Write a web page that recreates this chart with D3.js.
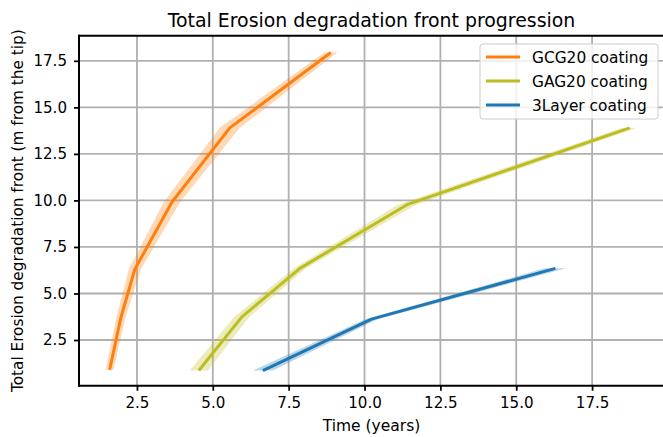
<!DOCTYPE html>
<html>
<head>
<meta charset="utf-8">
<script src="https://cdn.jsdelivr.net/npm/d3@7"></script>
<style>
  body { margin: 0; background: #fff; }
  svg { font-family: "DejaVu Sans", sans-serif; display: block; }
</style>
</head>
<body>
<svg width="663" height="437"></svg>
<script>
// values
var seriesNames = ["GCG20 coating", "GAG20 coating", "3Layer coating"];
var seriesColors = ["#ff7f0e", "#bcbd22", "#1f77b4"];

var gcgTime = [1.6, 1.97, 2.43, 3.65, 5.56, 8.89];
var gcgFront = [0.9, 3.7, 6.3, 9.9, 13.9, 17.95];
var gcgSpread = [0.13, 0.15, 0.2, 0.27, 0.33, 0.22];

var gagTime = [4.54, 5.95, 7.87, 11.4, 18.74];
var gagFront = [0.86, 3.73, 6.35, 9.77, 13.9];
var gagSpread = [0.3, 0.25, 0.2, 0.3, 0.25];

var layerTime = [6.65, 10.23, 16.29];
var layerFront = [0.86, 3.62, 6.35];
var layerSpread = [0.33, 0.2, 0.35];

var xTicks = [2.5, 5.0, 7.5, 10.0, 12.5, 15.0, 17.5];
var yTicks = [2.5, 5.0, 7.5, 10.0, 12.5, 15.0, 17.5];

function zipSeries(t, f, s) {
  var out = [];
  for (var i = 0; i < t.length; ++i) out.push({ x: t[i], y: f[i], lo: t[i] - s[i], hi: t[i] + s[i] });
  return out;
}

var series = [
  zipSeries(gcgTime, gcgFront, gcgSpread),
  zipSeries(gagTime, gagFront, gagSpread),
  zipSeries(layerTime, layerFront, layerSpread)
];

var axLeft = 79, axRight = 664, axTop = 35.7, axBottom = 385.7;

var x = d3.scaleLinear().domain([0.59, 19.87]).range([axLeft, axRight]);
var y = d3.scaleLinear().domain([0.045, 18.85]).range([axBottom, axTop]);

var svg = d3.select("svg");

svg.append("defs").append("clipPath").attr("id", "plotclip")
  .append("rect").attr("x", axLeft).attr("y", axTop)
  .attr("width", axRight - axLeft).attr("height", axBottom - axTop);

// grid
var grid = svg.append("g");
grid.selectAll("line.vx").data(xTicks).enter().append("line")
  .attr("x1", function(d) { return x(d); }).attr("x2", function(d) { return x(d); })
  .attr("y1", axTop).attr("y2", axBottom)
  .attr("stroke", "#b0b0b0").attr("stroke-width", 1.8);
grid.selectAll("line.hy").data(yTicks).enter().append("line")
  .attr("y1", function(d) { return y(d); }).attr("y2", function(d) { return y(d); })
  .attr("x1", axLeft).attr("x2", axRight)
  .attr("stroke", "#b0b0b0").attr("stroke-width", 1.8);

var plot = svg.append("g").attr("clip-path", "url(#plotclip)");

var band = d3.area()
  .y(function(d) { return y(d.y); })
  .x0(function(d) { return x(d.lo); })
  .x1(function(d) { return x(d.hi); });

var line = d3.line()
  .x(function(d) { return x(d.x); })
  .y(function(d) { return y(d.y); });

series.forEach(function(s, i) {
  plot.append("path").attr("d", band(s))
    .attr("fill", seriesColors[i]).attr("fill-opacity", 0.3);
});
series.forEach(function(s, i) {
  plot.append("path").attr("d", line(s))
    .attr("fill", "none").attr("stroke", seriesColors[i])
    .attr("stroke-width", 3).attr("stroke-linejoin", "round");
});

// axes
var xAxis = svg.append("g").attr("transform", "translate(0," + axBottom + ")")
  .call(d3.axisBottom(x).tickValues(xTicks).tickFormat(d3.format(".1f")).tickSize(5).tickPadding(7));
var yAxis = svg.append("g").attr("transform", "translate(" + axLeft + ",0)")
  .call(d3.axisLeft(y).tickValues(yTicks).tickFormat(d3.format(".1f")).tickSize(5).tickPadding(7));

[xAxis, yAxis].forEach(function(a) {
  a.attr("font-size", 15.1).attr("font-family", "DejaVu Sans, sans-serif");
  a.select(".domain").remove();
  a.selectAll(".tick line").attr("stroke", "#000").attr("stroke-width", 1.8);
  a.selectAll(".tick text").attr("fill", "#000");
});

// spines (right one falls just outside the picture)
svg.append("line").attr("x1", axLeft).attr("x2", axLeft).attr("y1", axTop - 1).attr("y2", axBottom + 1)
  .attr("stroke", "#000").attr("stroke-width", 2);
svg.append("line").attr("x1", axLeft - 1).attr("x2", axRight + 1).attr("y1", axBottom).attr("y2", axBottom)
  .attr("stroke", "#000").attr("stroke-width", 2);
svg.append("line").attr("x1", axLeft - 1).attr("x2", axRight + 1).attr("y1", axTop).attr("y2", axTop)
  .attr("stroke", "#000").attr("stroke-width", 2);

// titles
svg.append("text").attr("x", (axLeft + axRight) / 2).attr("y", 27)
  .attr("text-anchor", "middle").attr("font-size", 18.9)
  .text("Total Erosion degradation front progression");
svg.append("text").attr("x", (axLeft + axRight) / 2).attr("y", 431)
  .attr("text-anchor", "middle").attr("font-size", 15.5)
  .text("Time (years)");
svg.append("text")
  .attr("transform", "translate(23," + ((axTop + axBottom) / 2) + ") rotate(-90)")
  .attr("text-anchor", "middle").attr("font-size", 15.3)
  .text("Total Erosion degradation front (m from the tip)");

// legend
var lg = svg.append("g");
lg.append("rect").attr("x", 480).attr("y", 44).attr("width", 178).attr("height", 75)
  .attr("rx", 3).attr("fill", "#fff").attr("fill-opacity", 0.8)
  .attr("stroke", "#cccccc").attr("stroke-width", 1);
seriesNames.forEach(function(name, i) {
  var yy = 57 + i * 24;
  lg.append("line").attr("x1", 486).attr("x2", 520).attr("y1", yy).attr("y2", yy)
    .attr("stroke", seriesColors[i]).attr("stroke-width", 3);
  lg.append("text").attr("x", 532).attr("y", yy + 5.5).attr("font-size", 15.4)
    .text(name);
});
</script>
</body>
</html>
